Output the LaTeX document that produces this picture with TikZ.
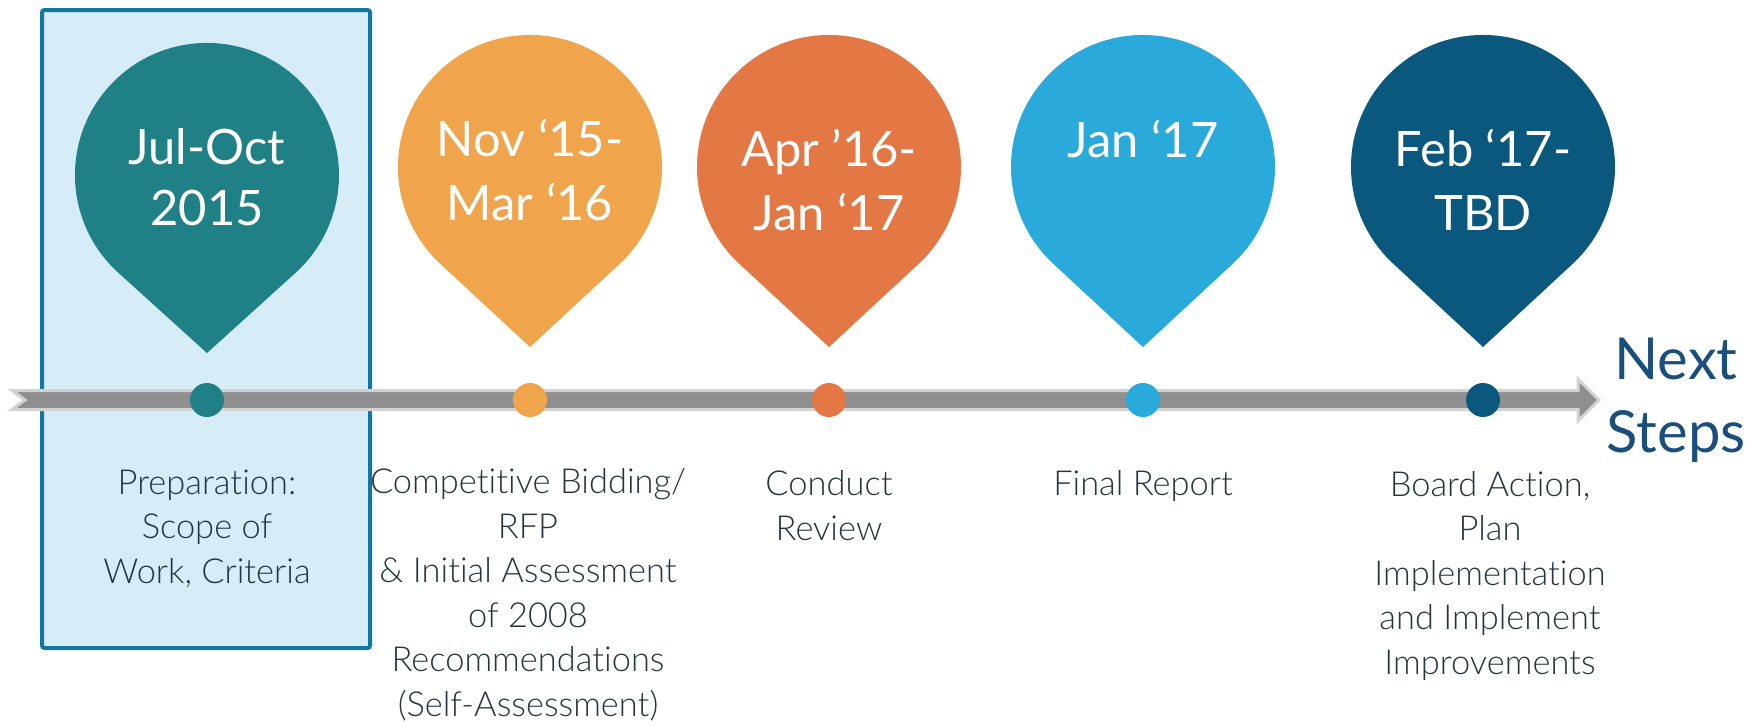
\documentclass[tikz,border=0pt]{standalone}
\usepackage{fontspec}
\setmainfont{Lato}
\newfontfamily\lightfont{Lato Light}[Ligatures=NoCommon]
\usepackage{tikz}
\usetikzlibrary{positioning}
\usepackage{xcolor}
\definecolor{tealpin}{HTML}{1F8085}
\definecolor{orangepin}{HTML}{F0A44C}
\definecolor{rustpin}{HTML}{E37844}
\definecolor{skypin}{HTML}{2AAADA}
\definecolor{navypin}{HTML}{0A587D}
\definecolor{boxfill}{HTML}{D6EDF8}
\definecolor{boxline}{HTML}{1377A6}
\definecolor{shaft}{HTML}{8F8F8F}
\definecolor{shaftrim}{HTML}{D2D2D2}
\definecolor{nextblue}{HTML}{1A4E7C}
\definecolor{desctext}{HTML}{22363F}

\begin{document}
\begin{tikzpicture}[x=0.02cm,y=-0.02cm,
  datetext/.style={text=white,align=center,inner sep=0pt,anchor=base,
    font=\fontsize{27.8}{36}\selectfont},
  desc/.style={text=desctext,align=center,inner sep=0pt,anchor=base,
    font=\lightfont\fontsize{19.6}{25.3}\selectfont},
  dot/.style={circle,inner sep=0pt,minimum size=0.68cm}]
\useasboundingbox (0,0) rectangle (1763,725);
% highlighted first phase
\draw[boxline,fill=boxfill,line width=0.08cm,rounded corners=0.05cm] (42,10) rectangle (370,648);
% time line
\coordinate (tail) at (12,400);
\coordinate (head) at (1599,400);
\draw[shaftrim,fill=shaft,line width=0.06cm] (tail) ++(0,-9.5) -- (1578,390.5) -- (1578,379) -- (head)
  -- (1578,421) -- (1578,409.5) -- (12,409.5) -- (25,400) -- cycle;
% pins
\fill[tealpin] (207,353) -- (117.3,271.8) arc[start angle=132.8,end angle=407.2,radius=132] -- cycle;
\fill[orangepin] (530,347) -- (440.3,263.8) arc[start angle=132.8,end angle=407.2,radius=132] -- cycle;
\fill[rustpin] (829,347) -- (739.3,263.8) arc[start angle=132.8,end angle=407.2,radius=132] -- cycle;
\fill[skypin] (1143,347) -- (1053.3,263.8) arc[start angle=132.8,end angle=407.2,radius=132] -- cycle;
\fill[navypin] (1483,347) -- (1393.3,263.8) arc[start angle=132.8,end angle=407.2,radius=132] -- cycle;
% dates (anchor = baseline of the last line)
\node[datetext] (t1) at (207,225) {Jul-Oct\\[-0.05cm]2015};
\node[datetext] (t2) at (530,220) {Nov ‘15-\\Mar ‘16};
\node[datetext] (t3) at (829,230) {Apr ’16-\\Jan ‘17};
\node[datetext] (t4) at (1143,157) {Jan ‘17};
\node[datetext] (t5) at (1483,230) {Feb ‘17-\\TBD};
% dots on the line
\node[dot,fill=tealpin] (m1) at (207,400) {};
\node[dot,fill=orangepin] (m2) at (530,400) {};
\node[dot,fill=rustpin] (m3) at (829,400) {};
\node[dot,fill=skypin] (m4) at (1143,400) {};
\node[dot,fill=navypin] (m5) at (1483,400) {};
% descriptions
\node[desc] (d1) at (207,583) {Preparation:\\Scope of\\Work, Criteria};
\node[desc] (d2) at (528,716) {Competitive Bidding/\\RFP\\\& Initial Assessment\\of 2008\\Recommendations\\(Self-Assessment)};
\node[desc] (d3) at (829,540) {Conduct\\Review};
\node[desc] (d4) at (1143,495) {Final Report};
\node[desc] (d5) at (1490,674) {Board Action,\\Plan\\Implementation\\and Implement\\Improvements};
\node[text=nextblue,align=center,inner sep=0pt,anchor=base,
  font=\fontsize{33}{41}\selectfont] (next) at (1676,452) {Next\\Steps};
\end{tikzpicture}
\end{document}
